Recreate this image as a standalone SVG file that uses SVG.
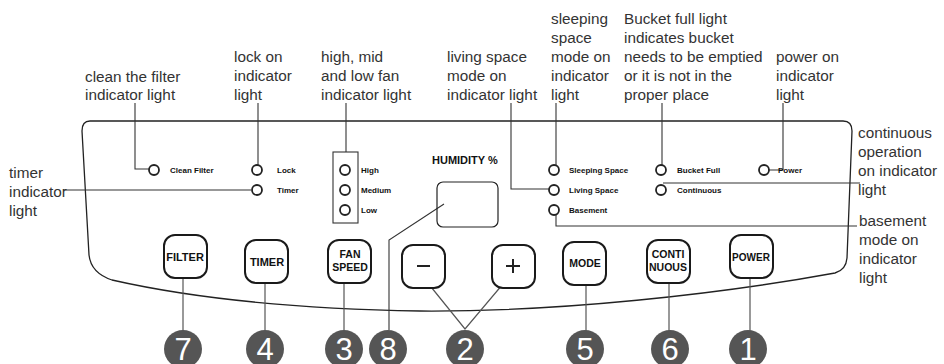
<svg xmlns="http://www.w3.org/2000/svg" width="944" height="364" viewBox="0 0 944 364">
<style>
.lbl{font-family:"Liberation Sans",Arial,sans-serif;font-size:15.3px;fill:#333}
.led{fill:#fff;stroke:#222;stroke-width:1.8}
.ledt{font-family:"Liberation Sans",Arial,sans-serif;font-size:8px;font-weight:bold;fill:#111}
.btn{fill:#fff;stroke:#1a1a1a;stroke-width:2}
.btnt{font-family:"Liberation Sans",Arial,sans-serif;font-weight:bold;fill:#111;text-anchor:middle}
.num{fill:#555}
.numt{font-family:"Liberation Sans",Arial,sans-serif;font-size:31px;fill:#fff;text-anchor:middle}
.c{fill:none;stroke:#333;stroke-width:1.1}
.g{fill:none;stroke:#555;stroke-width:1.2}
</style>
<rect width="944" height="364" fill="#fff"/>
<g id="panel">
<path d="M 90 121 L 843 121 Q 852 121 852 131 L 847 258 Q 846 270 835 273 C 720 294 560 312 420 311 C 300 309 200 300 112 280 Q 91 273 89 255 L 82 131 Q 82 121 90 121 Z" fill="none" stroke="#222" stroke-width="1.3"/>
</g>
<g id="labels">
<text class="lbl" x="85" y="82">clean the filter</text>
<text class="lbl" x="85" y="100">indicator light</text>
<text class="lbl" x="234" y="62">lock on</text>
<text class="lbl" x="234" y="81">indicator</text>
<text class="lbl" x="234" y="100">light</text>
<text class="lbl" x="321" y="62">high, mid</text>
<text class="lbl" x="321" y="81">and low fan</text>
<text class="lbl" x="321" y="100">indicator light</text>
<text class="lbl" x="447" y="62">living space</text>
<text class="lbl" x="447" y="81">mode on</text>
<text class="lbl" x="447" y="100">indicator light</text>
<text class="lbl" x="551" y="24">sleeping</text>
<text class="lbl" x="551" y="43">space</text>
<text class="lbl" x="551" y="62">mode on</text>
<text class="lbl" x="551" y="81">indicator</text>
<text class="lbl" x="551" y="100">light</text>
<text class="lbl" x="624" y="24">Bucket full light</text>
<text class="lbl" x="624" y="43">indicates bucket</text>
<text class="lbl" x="624" y="62">needs to be emptied</text>
<text class="lbl" x="624" y="81">or it is not in the</text>
<text class="lbl" x="624" y="100">proper place</text>
<text class="lbl" x="776" y="62">power on</text>
<text class="lbl" x="776" y="81">indicator</text>
<text class="lbl" x="776" y="100">light</text>
<text class="lbl" x="858" y="138">continuous</text>
<text class="lbl" x="858" y="157">operation</text>
<text class="lbl" x="858" y="176">on indicator</text>
<text class="lbl" x="858" y="195">light</text>
<text class="lbl" x="859" y="226">basement</text>
<text class="lbl" x="859" y="245">mode on</text>
<text class="lbl" x="859" y="264">indicator</text>
<text class="lbl" x="859" y="283">light</text>
<text class="lbl" x="9" y="178">timer</text>
<text class="lbl" x="9" y="197">indicator</text>
<text class="lbl" x="9" y="216">light</text>
</g>
<g id="connectors">
<polyline class="c" points="135,103 135,169 149,169"/>
<line class="c" x1="258" y1="103" x2="258" y2="165"/>
<line class="c" x1="63" y1="190" x2="251" y2="190"/>
<line class="c" x1="346" y1="103" x2="346" y2="152"/>
<polyline class="c" points="511,103 511,189 549,189"/>
<line class="c" x1="556" y1="103" x2="556" y2="165"/>
<polyline class="c" points="556,215 556,226 857,226"/>
<line class="c" x1="662" y1="103" x2="662" y2="165"/>
<line class="c" x1="663" y1="183" x2="860" y2="183"/>
<polyline class="c" points="783,103 783,170 769,170"/>
<polyline class="c" points="444,204 389,240 389,330"/>
<line class="g" x1="183" y1="269" x2="183" y2="331"/>
<line class="g" x1="265" y1="273" x2="265" y2="331"/>
<line class="g" x1="344" y1="280" x2="344" y2="331"/>
<polyline class="g" points="423,277 465,329 508,278"/>
<line class="g" x1="586" y1="272" x2="586" y2="331"/>
<line class="g" x1="669" y1="282" x2="669" y2="331"/>
<line class="g" x1="750" y1="268" x2="750" y2="331"/>
</g>
<g id="leds">
<circle class="led" cx="154" cy="170" r="5"/>
<text class="ledt" x="170" y="173">Clean Filter</text>
<circle class="led" cx="257" cy="170" r="5"/>
<text class="ledt" x="277" y="173">Lock</text>
<circle class="led" cx="257" cy="190" r="5"/>
<text class="ledt" x="277" y="193">Timer</text>
<rect x="333" y="152" width="25" height="71" fill="none" stroke="#333" stroke-width="1.1"/>
<circle class="led" cx="345" cy="170" r="5"/>
<text class="ledt" x="361" y="173">High</text>
<circle class="led" cx="345" cy="190" r="5"/>
<text class="ledt" x="361" y="193">Medium</text>
<circle class="led" cx="345" cy="210" r="5"/>
<text class="ledt" x="361" y="213">Low</text>
<text x="432" y="164" font-family="Liberation Sans,Arial,sans-serif" font-size="11px" font-weight="bold" fill="#111">HUMIDITY %</text>
<rect x="437" y="182" width="61" height="45" rx="6" fill="none" stroke="#222" stroke-width="1.2"/>
<circle class="led" cx="554" cy="170" r="5"/>
<text class="ledt" x="569" y="173">Sleeping Space</text>
<circle class="led" cx="554" cy="190" r="5"/>
<text class="ledt" x="569" y="193">Living Space</text>
<circle class="led" cx="554" cy="210" r="5"/>
<text class="ledt" x="569" y="213">Basement</text>
<circle class="led" cx="661" cy="170" r="5"/>
<text class="ledt" x="677" y="173">Bucket Full</text>
<circle class="led" cx="661" cy="190" r="5"/>
<text class="ledt" x="677" y="193">Continuous</text>
<circle class="led" cx="764" cy="170" r="5"/>
<text class="ledt" x="778" y="173">Power</text>
</g>
<g id="btn-filter"><rect class="btn" x="164" y="235" width="43" height="43" rx="11"/><text class="btnt" x="185" y="261" font-size="11px">FILTER</text></g>
<g id="btn-timer"><rect class="btn" x="245" y="240" width="43" height="43" rx="11"/><text class="btnt" x="267" y="266" font-size="11px">TIMER</text></g>
<g id="btn-fan"><rect class="btn" x="328" y="240" width="43" height="43" rx="11"/><text class="btnt" x="350" y="258" font-size="10.5px">FAN</text><text class="btnt" x="350" y="271" font-size="10.5px">SPEED</text></g>
<g id="btn-minus"><rect class="btn" x="402" y="245" width="43" height="43" rx="11"/><line x1="417" y1="266" x2="430" y2="266" stroke="#222" stroke-width="2"/></g>
<g id="btn-plus"><rect class="btn" x="492" y="245" width="43" height="43" rx="11"/><line x1="506" y1="266" x2="520" y2="266" stroke="#222" stroke-width="2"/><line x1="513" y1="259" x2="513" y2="273" stroke="#222" stroke-width="2"/></g>
<g id="btn-mode"><rect class="btn" x="563" y="242" width="43" height="43" rx="11"/><text class="btnt" x="585" y="267" font-size="10.5px">MODE</text></g>
<g id="btn-cont"><rect class="btn" x="647" y="240" width="43" height="43" rx="11"/><text class="btnt" x="668" y="258" font-size="10.5px">CONTI</text><text class="btnt" x="668" y="271" font-size="10.5px">NUOUS</text></g>
<g id="btn-power"><rect class="btn" x="730" y="235" width="43" height="43" rx="11"/><text class="btnt" x="751" y="261" font-size="10px">POWER</text></g>
<g id="n7"><circle class="num" cx="183" cy="349" r="19"/><text class="numt" x="183" y="360">7</text></g>
<g id="n4"><circle class="num" cx="265" cy="349" r="19"/><text class="numt" x="265" y="360">4</text></g>
<g id="n3"><circle class="num" cx="344" cy="349" r="19"/><text class="numt" x="344" y="360">3</text></g>
<g id="n8"><circle class="num" cx="388" cy="349" r="19"/><text class="numt" x="388" y="360">8</text></g>
<g id="n2"><circle class="num" cx="465" cy="349" r="19"/><text class="numt" x="465" y="360">2</text></g>
<g id="n5"><circle class="num" cx="585" cy="349" r="19"/><text class="numt" x="585" y="360">5</text></g>
<g id="n6"><circle class="num" cx="670" cy="349" r="19"/><text class="numt" x="670" y="360">6</text></g>
<g id="n1"><circle class="num" cx="748" cy="349" r="19"/><text class="numt" x="748" y="360">1</text></g>
</svg>
